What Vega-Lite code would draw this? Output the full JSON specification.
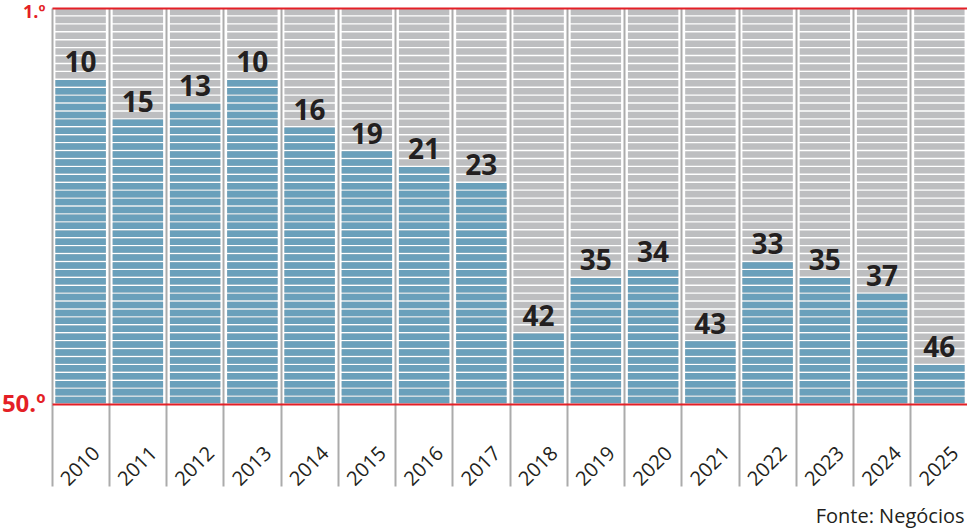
{
  "$schema": "https://vega.github.io/schema/vega-lite/v6.json",
  "width": 916,
  "height": 396,
  "autosize": {"type": "none"},
  "padding": {"left": 52, "top": 8, "right": 0, "bottom": 124},
  "background": "white",
  "config": {"view": {"stroke": null}},
  "data": {
    "values": [
      {"year": "2010", "rank": 10},
      {"year": "2011", "rank": 15},
      {"year": "2012", "rank": 13},
      {"year": "2013", "rank": 10},
      {"year": "2014", "rank": 16},
      {"year": "2015", "rank": 19},
      {"year": "2016", "rank": 21},
      {"year": "2017", "rank": 23},
      {"year": "2018", "rank": 42},
      {"year": "2019", "rank": 35},
      {"year": "2020", "rank": 34},
      {"year": "2021", "rank": 43},
      {"year": "2022", "rank": 33},
      {"year": "2023", "rank": 35},
      {"year": "2024", "rank": 37},
      {"year": "2025", "rank": 46}
    ]
  },
  "encoding": {
    "x": {
      "field": "year",
      "type": "ordinal",
      "scale": {"paddingInner": 0.12, "paddingOuter": 0.06},
      "axis": {
        "title": "Fonte: Negócios",
        "titleX": 912,
        "titleY": 118,
        "titleAlign": "right",
        "titleAnchor": "end",
        "titleBaseline": "alphabetic",
        "titleFont": "Open Sans",
        "titleFontSize": 20,
        "titleFontWeight": "normal",
        "titleColor": "#231f20",
        "labelAngle": -45,
        "labelAlign": "center",
        "labelBaseline": "middle",
        "labelPadding": -20,
        "labelFont": "Open Sans",
        "labelFontSize": 20,
        "labelColor": "#231f20",
        "domain": false,
        "ticks": true,
        "tickSize": 82,
        "tickColor": "#ababab",
        "tickWidth": 2,
        "grid": true,
        "gridColor": "#ababab",
        "gridWidth": 2,
        "bandPosition": -0.068
      }
    },
    "y": {
      "field": "rank",
      "type": "quantitative",
      "scale": {"domain": [1, 51], "reverse": true, "nice": false, "zero": false},
      "axis": {
        "values": [1, 51],
        "labelExpr": "datum.value == 1 ? '1.º' : '50.º'",
        "labelFont": "Open Sans",
        "labelFontSize": {"condition": {"test": "datum.value == 1", "value": 18}, "value": 24},
        "labelFontWeight": "bold",
        "labelColor": "#e41f26",
        "labelPadding": 7,
        "labelFlush": false,
        "labelBaseline": "middle",
        "labelOffset": {"condition": {"test": "datum.value == 1", "value": 4}, "value": 0},
        "domain": false,
        "ticks": false,
        "grid": true,
        "gridColor": "#e41f26",
        "gridWidth": 2,
        "title": null,
        "zindex": 1
      }
    }
  },
  "layer": [
    {
      "mark": {"type": "rule", "color": "#bdbec0", "strokeWidth": 50.4, "strokeCap": "butt", "strokeDash": [6.52, 1.4], "strokeDashOffset": 7.22},
      "encoding": {
        "y": {"datum": 51, "type": "quantitative"},
        "y2": {"datum": 1}
      }
    },
    {
      "mark": {"type": "rule", "color": "#6aa0bb", "strokeWidth": 50.4, "strokeCap": "butt", "strokeDash": [6.52, 1.4], "strokeDashOffset": 7.22},
      "encoding": {
        "y": {"datum": 51, "type": "quantitative"},
        "y2": {"field": "rank"}
      }
    },
    {
      "mark": {"type": "text", "baseline": "alphabetic", "dy": -7, "font": "Open Sans", "fontSize": 28, "fontWeight": "bold", "color": "#231f20"},
      "encoding": {
        "text": {"field": "rank", "type": "quantitative"}
      }
    }
  ]
}
